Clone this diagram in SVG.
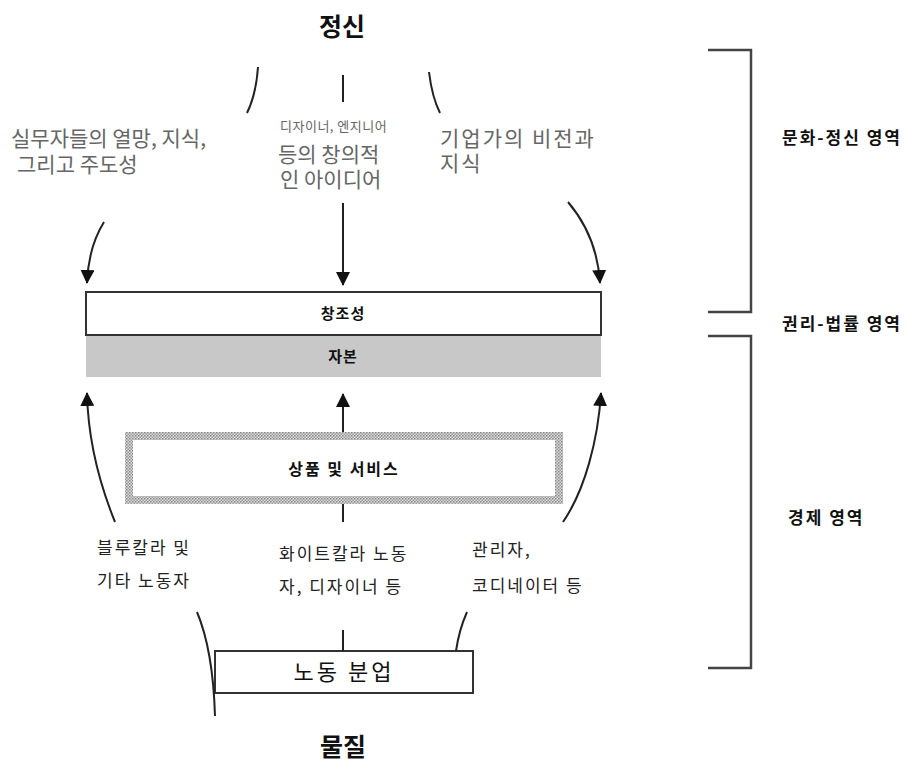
<svg xmlns="http://www.w3.org/2000/svg" width="912" height="763" viewBox="0 0 912 763">
<style>
text { font-family: "Noto Sans CJK KR", "Noto Sans", sans-serif; }
.title { font-size: 25px; font-weight: 700; fill: #111; text-anchor: middle; }
.gray { font-size: 21px; fill: #666; }
.grays { font-size: 13px; fill: #666; letter-spacing: 0.5px; }
.lbl { font-size: 17px; fill: #222; letter-spacing: 2px; }
.box { font-size: 15px; font-weight: 700; fill: #111; text-anchor: middle; letter-spacing: 1px; }
.area { font-size: 17px; font-weight: 700; fill: #111; letter-spacing: 2px; }
.ln { fill: none; stroke: #222; stroke-width: 2; }
.arr { fill: none; stroke: #222; stroke-width: 2; marker-end: url(#ah); }
.br { fill: none; stroke: #444; stroke-width: 2.5; }
</style>
<defs>
<marker id="ah" markerUnits="userSpaceOnUse" markerWidth="14" markerHeight="14" viewBox="0 0 14 14" refX="13" refY="7" orient="auto">
<path d="M0,0 L14,7 L0,14 Z" fill="#111"/>
</marker>
<pattern id="stip" patternUnits="userSpaceOnUse" width="3" height="3">
<rect width="3" height="3" fill="#d8d8d8"/>
<rect x="0" y="0" width="1.5" height="1.5" fill="#8a8a8a"/>
<rect x="1.5" y="1.5" width="1.5" height="1.5" fill="#a0a0a0"/>
</pattern>
</defs>

<g id="title-top"><text class="title" x="342" y="36">정신</text></g>
<g id="title-bottom"><text class="title" x="343" y="756">물질</text></g>

<g id="label-practitioners">
<text class="gray" x="11" y="146">실무자들의 열망, 지식,</text>
<text class="gray" x="17" y="172">그리고 주도성</text>
</g>
<g id="label-designers">
<text class="grays" x="280" y="131">디자이너, 엔지니어</text>
<text class="gray" x="278" y="162">등의 창의적</text>
<text class="gray" x="280" y="187">인 아이디어</text>
</g>
<g id="label-entrepreneur">
<text class="gray" x="440" y="146" style="letter-spacing:2px">기업가의 비전과</text>
<text class="gray" x="440" y="171" style="letter-spacing:2px">지식</text>
</g>

<g id="node-creativity">
<rect x="86" y="292" width="515" height="43" fill="#fff" stroke="#333" stroke-width="2"/>
<text class="box" x="343" y="319">창조성</text>
</g>
<g id="node-capital">
<rect x="86" y="336" width="515" height="41" fill="#c8c8c8"/>
<text class="box" x="343" y="362">자본</text>
</g>
<g id="node-goods">
<rect x="129" y="436" width="430" height="64" fill="#fff" stroke="url(#stip)" stroke-width="8"/>
<text class="box" x="344" y="475" style="font-size:16px;letter-spacing:2px">상품 및 서비스</text>
</g>
<g id="node-division">
<rect x="215" y="651" width="258" height="42" fill="#fff" stroke="#333" stroke-width="2"/>
<text x="344" y="680" style="font-size:22px;fill:#111;text-anchor:middle;letter-spacing:3px">노동 분업</text>
</g>

<g id="label-blue">
<text class="lbl" x="97" y="554">블루칼라 및</text>
<text class="lbl" x="97" y="587">기타 노동자</text>
</g>
<g id="label-white">
<text class="lbl" x="279" y="560">화이트칼라 노동</text>
<text class="lbl" x="279" y="593">자, 디자이너 등</text>
</g>
<g id="label-managers">
<text class="lbl" x="472" y="556">관리자,</text>
<text class="lbl" x="472" y="592">코디네이터 등</text>
</g>

<g id="area-culture"><text class="area" x="782" y="144">문화-정신 영역</text></g>
<g id="area-law"><text class="area" x="782" y="330">권리-법률 영역</text></g>
<g id="area-economy"><text class="area" x="788" y="524">경제 영역</text></g>

<g id="connectors">
<path class="ln" d="M258,67 Q256,95 247,113"/>
<path class="ln" d="M343,75 L343,102"/>
<path class="ln" d="M429,72 Q432,97 440,113"/>
<path class="arr" d="M104,222 C94,238 88,258 87,283"/>
<path class="arr" d="M343,203 L343,285"/>
<path class="arr" d="M568,202 C585,222 598,250 600,283"/>
<path class="arr" d="M115,522 C98,480 88,440 87,393"/>
<path class="arr" d="M343,432 L343,394"/>
<path class="arr" d="M563,522 C585,490 598,440 601,393"/>
<path class="ln" d="M343,504 L343,522"/>
<path class="ln" d="M197,612 Q213,650 215,716"/>
<path class="ln" d="M343,630 L343,651"/>
<path class="ln" d="M467,612 Q459,630 456,651"/>
</g>

<g id="brackets">
<path class="br" d="M708,50 L751,50 L751,312 L708,312"/>
<path class="br" d="M708,336 L751,336 L751,668 L708,668"/>
</g>
</svg>
